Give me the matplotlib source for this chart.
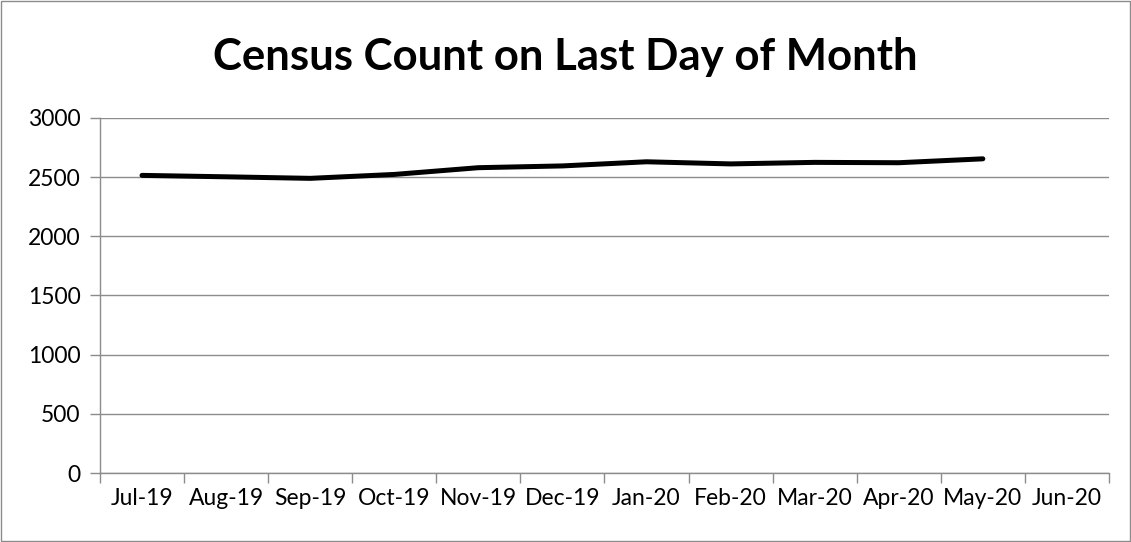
import matplotlib

matplotlib.use("Agg")
import matplotlib.pyplot as plt
from matplotlib.patches import Rectangle

months = ["Jul-19", "Aug-19", "Sep-19", "Oct-19", "Nov-19", "Dec-19",
          "Jan-20", "Feb-20", "Mar-20", "Apr-20", "May-20", "Jun-20"]
census = [2515, 2503, 2490, 2523, 2580, 2595, 2630, 2612, 2625, 2622, 2655]
yticks = [0, 500, 1000, 1500, 2000, 2500, 3000]

plt.rcParams["font.family"] = ["Lato", "DejaVu Sans"]

fig = plt.figure(figsize=(11.31, 5.42), dpi=100)
ax = fig.add_axes([0.0884, 0.1273, 0.8921, 0.655])

xs = list(range(len(census)))
ax.plot(xs, census, color="black", linewidth=3.6, solid_capstyle="round",
        solid_joinstyle="round", zorder=3)

ax.set_xlim(-0.5, len(months) - 0.5)
ax.set_ylim(0, 3000)
ax.set_yticks(yticks)
ax.grid(axis="y", color="#8c8c8c", linewidth=1)
ax.set_axisbelow(True)

# category boundaries get the tick marks, centres get the labels
ax.set_xticks([i - 0.5 for i in range(len(months) + 1)])
ax.set_xticklabels([])
ax.set_xticks(range(len(months)), minor=True)
ax.set_xticklabels(months, minor=True, fontsize=16.5)
ax.tick_params(axis="x", which="major", length=7, color="#8c8c8c", width=1)
ax.tick_params(axis="x", which="minor", length=0, pad=11)
ax.tick_params(axis="y", length=7, color="#8c8c8c", width=1, labelsize=16.5, pad=7)

for side in ("top", "right"):
    ax.spines[side].set_visible(False)
for side in ("left", "bottom"):
    ax.spines[side].set_color("#8c8c8c")
    ax.spines[side].set_linewidth(1)

fig.text(0.5, 0.895, "Census Count on Last Day of Month", ha="center", va="center",
         fontsize=31.5, fontweight="bold")

fig.patches.append(Rectangle((0.001, 0.002), 0.998, 0.996, transform=fig.transFigure,
                             fill=False, edgecolor="#8c8c8c", linewidth=1))

fig.savefig("out.png", dpi=100)
